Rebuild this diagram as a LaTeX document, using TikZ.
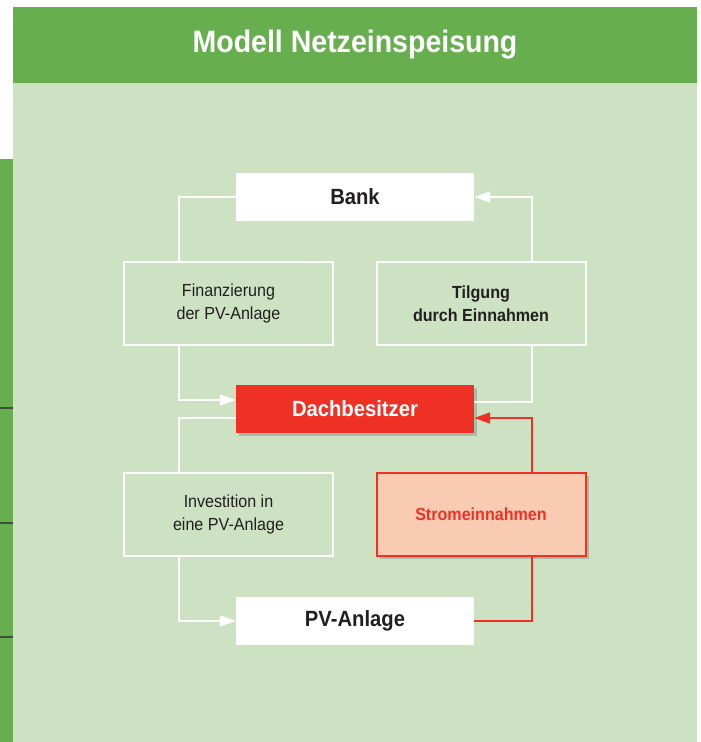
\documentclass[tikz,border=0pt]{standalone}
\usepackage{fontspec}
\setmainfont{Liberation Sans}[FakeStretch=0.92]
\usetikzlibrary{arrows.meta,shadows}

\definecolor{headgreen}{RGB}{102,174,78}
\definecolor{panelgreen}{RGB}{205,225,195}
\definecolor{stripline}{RGB}{60,80,55}
\definecolor{dachred}{RGB}{238,49,36}
\definecolor{salmon}{RGB}{250,203,179}
\definecolor{textdark}{RGB}{35,31,32}

\tikzset{
  whitebox/.style={fill=white, minimum width=238pt, minimum height=48pt,
    font=\fontsize{22}{26}\selectfont\bfseries, text=textdark},
  infobox/.style={draw=white, line width=2pt, minimum width=209pt, minimum height=83pt,
    align=center, font=\fontsize{17.5}{23.5}\selectfont, text=textdark},
  flow/.style={draw=white, line width=2pt},
  redflow/.style={draw=dachred, line width=2pt},
  tip/.style={-{Triangle[length=16pt,width=11pt]}},
  boxshadow/.style={drop shadow={shadow xshift=3pt, shadow yshift=-3pt, opacity=0.25, fill=black!70}}
}

\begin{document}
\begin{tikzpicture}[x=1pt, y=-1pt]

\useasboundingbox (0,0) rectangle (701,742);
\fill[white] (0,0) rectangle (701,742);
% header and panel
\fill[headgreen] (13,7) rectangle (697,83);
\fill[panelgreen] (13,83) rectangle (697,742);
\node[text=white, font=\fontsize{31}{36}\selectfont\bfseries] (title) at (355,45) {Modell Netzeinspeisung};
% strip at the left edge
\fill[headgreen] (0,159) rectangle (13,742);
\foreach \y in {408, 523, 637}
\draw[stripline, line width=1.5pt] (0,\y) -- (13,\y);

% boxes
\node[whitebox] (bank) at (355,197) {Bank};
\node[infobox] (finanz) at (228.5,303.5) {Finanzierung\\der PV-Anlage};
\node[infobox, font=\fontsize{17.5}{23.5}\selectfont\bfseries] (tilgung) at (481,303.5) {Tilgung\\durch Einnahmen};
\node[whitebox, fill=dachred, text=white, boxshadow] (dach) at (355,409) {Dachbesitzer};
\node[infobox] (invest) at (228.5,514.5) {Investition in\\eine PV-Anlage};
\node[infobox, draw=dachred, fill=salmon, text=dachred, boxshadow,
  font=\fontsize{17.5}{22}\selectfont\bfseries] (strom) at (481,514.5) {Stromeinnahmen};
\node[whitebox] (pv) at (355,621) {PV-Anlage};

% connectors
\draw[flow] (bank.west) -| ([xshift=56pt]finanz.north west);
\draw[flow, tip] ([xshift=56pt]finanz.south west) |- ([yshift=9pt]dach.west);
\draw[flow] ([yshift=-9pt]dach.west) -| ([xshift=56pt]invest.north west);
\draw[flow, tip] ([xshift=56pt]invest.south west) |- (pv.west);
\draw[flow] ([yshift=7pt]dach.east) -| ([xshift=-55pt]tilgung.south east);
\draw[flow, tip] ([xshift=-55pt]tilgung.north east) |- (bank.east);
\draw[redflow] (pv.east) -| ([xshift=-55pt]strom.south east);
\draw[redflow, tip] ([xshift=-55pt]strom.north east) |- ([yshift=-9pt]dach.east);
\end{tikzpicture}
\end{document}
